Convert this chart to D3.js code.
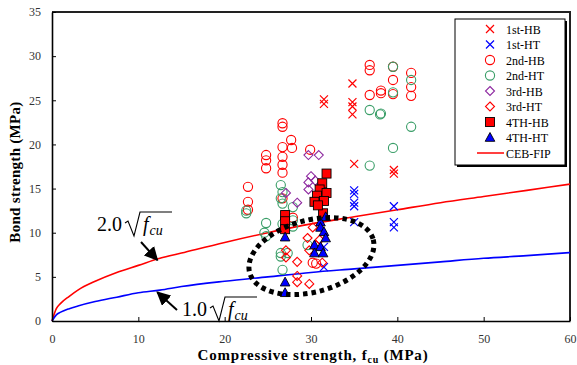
<!DOCTYPE html>
<html><head><meta charset="utf-8">
<script src="https://cdn.jsdelivr.net/npm/d3@7"></script>
<style>body{margin:0;background:#fff}svg{display:block}text{font-family:"Liberation Serif","Times New Roman",serif}</style>
</head><body>
<svg id="c" width="577" height="365"></svg>
<script>
// ---- data (MPa) ----
const hb1 = [[31.5,25.1],[31.5,24.6],[34.8,26.9],[34.8,24.8],[34.8,24.3],[34.8,23.4],[35.0,17.8],[39.6,17.1],[39.6,16.7]];
const ht1 = [[35.0,14.8],[35.0,14.4],[35.0,13.4],[35.0,13.0],[35.0,11.2],[39.6,13.0],[39.6,11.2],[39.6,10.6],[31.5,8.4],[31.5,6.1]];
const hb2 = [[36.8,29.0],[36.8,28.4],[36.8,25.6],[38.1,26.1],[38.1,25.8],[39.5,28.8],[39.5,27.3],[39.5,25.7],[41.6,28.1],[41.6,26.5],[41.6,25.5],
             [26.7,22.4],[26.7,22.0],[27.7,20.5],[26.7,19.7],[27.8,19.6],[29.9,19.4],[24.8,18.8],[24.8,18.2],[24.8,17.3],
             [26.7,18.6],[26.7,17.7],[26.7,16.8],[22.7,15.2],[22.7,13.5],[22.7,12.6],[26.7,13.9],[27.9,11.7],[30.2,6.6],[30.6,6.5]];
const ht2 = [[39.5,28.8],[39.5,25.9],[41.6,27.3],[36.8,23.9],[38.1,23.5],[38.0,23.4],[41.6,22.0],[39.5,19.6],[36.8,17.6],
             [22.5,12.5],[22.5,12.2],[24.8,11.1],[24.6,10.0],[24.8,9.6],[26.5,15.4],[26.7,14.6],[26.5,13.9],[26.7,13.3],
             [27.9,12.9],[27.9,11.4],[27.9,10.7],[26.5,7.7],[26.5,7.3],[27.3,7.7],[26.7,5.8],[29.6,8.6],[26.7,11.0]];
const hb3 = [[29.7,18.8],[30.9,18.8],[30.0,16.4],[29.7,15.7],[30.5,15.9],[29.7,14.9],[27.1,14.5],[28.4,13.4]];
const ht3 = [[27.1,8.0],[27.1,7.2],[28.4,6.7],[28.4,5.1],[28.4,4.4],[29.8,4.2],[29.6,9.4],[31.0,9.2],[29.8,8.0],[31.3,6.6],[30.6,8.6],[30.2,10.6]];
const hb4 = [[27.0,12.0],[27.0,11.3],[27.0,10.4],[31.8,16.7],[31.3,15.6],[31.0,14.9],[31.8,14.5],[30.7,14.2],[30.4,13.5],[31.5,13.6],[31.4,12.2],[30.8,13.1]];
const ht4 = [[27.0,9.5],[27.0,4.4],[27.0,3.2],[31.7,11.8],[31.1,11.2],[31.1,10.6],[31.5,10.1],[31.7,9.4],[30.4,8.6],[31.1,8.4],[30.4,7.7],[31.4,7.7]];
// design curves
const curveX = [0,0.5,1,2,3,5,7.5,10,12.5,15,20,25,30,35,40,45,50,55,60];
const red20  = [0,1.4,2.0,2.8,3.5,4.5,5.5,6.3,7.1,7.7,8.9,10.0,11.0,11.8,12.6,13.4,14.1,14.8,15.5];
const blue10 = [0,0.7,1.0,1.4,1.7,2.2,2.7,3.2,3.5,3.9,4.5,5.0,5.5,5.9,6.3,6.7,7.1,7.4,7.75];
const xTicks = [0,10,20,30,40,50,60];
const yTicks = [0,5,10,15,20,25,30,35];
const legendNames = ["1st-HB","1st-HT","2nd-HB","2nd-HT","3rd-HB","3rd-HT","4TH-HB","4TH-HT","CEB-FIP"];

const svg = d3.select("#c");
const x = d3.scaleLinear().domain([0,60]).range([52,570]);
const y = d3.scaleLinear().domain([0,35]).range([321,12]);

const RED="#ff0000", BLUE="#0000ff", GREEN="#3a9e68", PURPLE="#8e2aa0";

// frame top/right
svg.append("line").attr("x1",x(0)).attr("x2",x(60)+1).attr("y1",y(35)).attr("y2",y(35)).attr("stroke","#222").attr("stroke-width",2);
svg.append("line").attr("x1",x(60)).attr("x2",x(60)).attr("y1",y(35)).attr("y2",y(0)).attr("stroke","#222").attr("stroke-width",2);

// curves
const line = d3.line().x(d=>x(d[0])).y(d=>y(d[1])).curve(d3.curveMonotoneX);
svg.append("path").datum(curveX.map((v,i)=>[v,red20[i]])).attr("d",line).attr("fill","none").attr("stroke",RED).attr("stroke-width",1.6);
svg.append("path").datum(curveX.map((v,i)=>[v,blue10[i]])).attr("d",line).attr("fill","none").attr("stroke",BLUE).attr("stroke-width",1.6);

// marker shapes
const shapes = {
  times:(g,c)=>g.append("path").attr("d","M-4,-4L4,4M-4,4L4,-4").attr("stroke",c).attr("stroke-width",1.2).attr("fill","none"),
  circle:(g,c)=>g.append("circle").attr("r",4.6).attr("fill","none").attr("stroke",c).attr("stroke-width",1.1),
  diamond:(g,c)=>g.append("path").attr("d","M0,-4.5L4.5,0L0,4.5L-4.5,0Z").attr("fill","none").attr("stroke",c).attr("stroke-width",1.1),
  square:(g,c)=>g.append("rect").attr("x",-4.5).attr("y",-4.5).attr("width",9).attr("height",9).attr("fill",c).attr("stroke","#000").attr("stroke-width",0.9),
  triangle:(g,c)=>g.append("path").attr("d","M0,-5L4.8,3.8L-4.8,3.8Z").attr("fill",c).attr("stroke","#000").attr("stroke-width",0.9)
};
const series = [
  {d:hb1,s:"times",c:RED},{d:ht1,s:"times",c:BLUE},{d:hb2,s:"circle",c:RED},{d:ht2,s:"circle",c:GREEN},
  {d:hb3,s:"diamond",c:PURPLE},{d:ht3,s:"diamond",c:RED},{d:hb4,s:"square",c:RED},{d:ht4,s:"triangle",c:BLUE}
];
series.forEach(se=>{
  svg.append("g").selectAll("g").data(se.d).join("g")
    .attr("transform",d=>`translate(${x(d[0])},${y(d[1])})`)
    .each(function(){shapes[se.s](d3.select(this),se.c);});
});

// dotted ellipse
svg.append("ellipse").attr("cx",0).attr("cy",0).attr("rx",64).attr("ry",36)
  .attr("transform",`translate(${x(30.05)},${y(7.35)}) rotate(-15)`)
  .attr("fill","none").attr("stroke","#000").attr("stroke-width",5).attr("stroke-dasharray","4.5,4");

// axes
const xa = svg.append("g").attr("transform",`translate(0,${y(0)})`)
  .call(d3.axisBottom(x).tickValues(xTicks).tickSizeInner(-4).tickSizeOuter(0).tickPadding(13));
const ya = svg.append("g").attr("transform",`translate(${x(0)},0)`)
  .call(d3.axisLeft(y).tickValues(yTicks).tickSizeInner(-4).tickSizeOuter(0).tickPadding(11));
[xa,ya].forEach(a=>{
  a.select(".domain").attr("stroke","#000").attr("stroke-width",1.6);
  a.selectAll(".tick line").attr("stroke","#000");
  a.selectAll("text").attr("font-size",12).attr("fill","#333").attr("font-family","Liberation Serif, serif");
});

// axis titles
svg.append("text").attr("transform","translate(20,172) rotate(-90)").attr("text-anchor","middle")
  .attr("font-size",15).attr("font-weight","bold").attr("letter-spacing",0.3).text("Bond strength  (MPa)");
const xt = svg.append("text").attr("x",313).attr("y",360).attr("text-anchor","middle").attr("font-size",15)
  .attr("font-weight","bold").attr("letter-spacing",0.8);
xt.append("tspan").text("Compressive strength, f");
xt.append("tspan").attr("font-size",10).attr("dy",3).text("cu");
xt.append("tspan").attr("dy",-3).text(" (MPa)");

// formula annotations
function formula(tx, base, coef){
  svg.append("text").attr("x",tx).attr("y",base).attr("font-size",20).text(coef);
  const r = tx+28;
  svg.append("path").attr("d",`M${r},${base-8}L${r+3},${base-10}L${r+9},${base+5}L${r+15},${base-19}L${r+47},${base-19}`)
    .attr("fill","none").attr("stroke","#000").attr("stroke-width",1.1);
  const t = svg.append("text").attr("x",r+18).attr("y",base).attr("font-size",20).attr("font-style","italic");
  t.append("tspan").text("f");
  t.append("tspan").attr("font-size",14).attr("dy",4).attr("dx",1).text("cu");
}
formula(97,231,"2.0");
formula(182,316,"1.0");

// arrows
svg.append("defs").append("marker").attr("id","ah").attr("viewBox","0 0 10 10").attr("refX",9).attr("refY",5)
  .attr("markerWidth",7).attr("markerHeight",7).attr("orient","auto")
  .append("path").attr("d","M0,0L10,5L0,10Z").attr("fill","#000");
svg.append("line").attr("x1",141).attr("y1",242).attr("x2",x(12.2)).attr("y2",y(6.9)).attr("stroke","#000").attr("stroke-width",2).attr("marker-end","url(#ah)");
svg.append("line").attr("x1",177).attr("y1",310).attr("x2",x(12.2)).attr("y2",y(3.25)).attr("stroke","#000").attr("stroke-width",2).attr("marker-end","url(#ah)");

// legend
const lg = svg.append("g");
lg.append("rect").attr("x",457).attr("y",21).attr("width",110).attr("height",146).attr("fill","#000");
lg.append("rect").attr("x",455).attr("y",19).attr("width",110).attr("height",146).attr("fill","#fff").attr("stroke","#000").attr("stroke-width",1);
legendNames.forEach((n,i)=>{
  const yy = 29 + i*15.5;
  if(i<8){
    const g = lg.append("g").attr("transform",`translate(490,${yy})`);
    shapes[series[i].s](g,series[i].c);
  } else {
    lg.append("line").attr("x1",477).attr("x2",504).attr("y1",yy).attr("y2",yy).attr("stroke",RED).attr("stroke-width",1.5);
  }
  lg.append("text").attr("x",506).attr("y",yy+4.5).attr("font-size",12).text(n);
});
</script>
</body></html>
